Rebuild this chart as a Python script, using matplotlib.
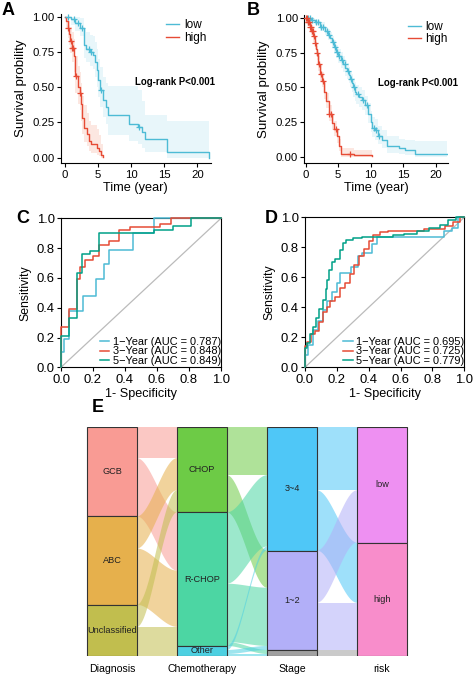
import numpy as np
import matplotlib
matplotlib.use("Agg")
import matplotlib.pyplot as plt
from matplotlib.patches import Rectangle, Polygon

plt.rcParams['font.family'] = ['Liberation Sans', 'DejaVu Sans']

# ---------------- data: Kaplan-Meier, panel A ----------------
a_low_t = [0, 0.9, 1.5, 2.3, 2.8, 3.2, 3.8, 4.2, 4.5, 4.8, 5.0, 5.3, 5.8, 6.2, 6.5, 9.6, 11.1, 11.6, 12.1, 15.4, 21.8]
a_low_s = [1.0, 0.98, 0.955, 0.92, 0.80, 0.77, 0.75, 0.73, 0.68, 0.62, 0.55, 0.48, 0.41, 0.36, 0.305, 0.24, 0.22, 0.18, 0.135, 0.04, 0.0]
a_low_lo = [1.0, 0.94, 0.90, 0.86, 0.71, 0.68, 0.65, 0.63, 0.57, 0.50, 0.43, 0.36, 0.29, 0.24, 0.16, 0.12, 0.10, 0.07, 0.04, 0.0, 0.0]
a_low_hi = [1.0, 1.0, 1.0, 0.99, 0.91, 0.89, 0.87, 0.86, 0.82, 0.77, 0.70, 0.64, 0.57, 0.53, 0.51, 0.51, 0.48, 0.40, 0.30, 0.26, 0.26]
a_low_cens = [0.4, 1.3, 1.9, 2.6, 3.6, 4.0, 5.4, 11.2]

a_high_t = [0, 0.15, 0.4, 0.6, 0.75, 1.0, 1.3, 1.5, 1.9, 2.2, 2.4, 2.6, 2.9, 3.3, 3.7, 4.0, 4.8, 5.2, 5.4, 5.8]
a_high_s = [1.0, 0.97, 0.92, 0.88, 0.83, 0.78, 0.72, 0.58, 0.50, 0.46, 0.38, 0.28, 0.21, 0.17, 0.12, 0.095, 0.07, 0.05, 0.02, 0.005]
a_high_lo = [1.0, 0.92, 0.85, 0.80, 0.74, 0.68, 0.61, 0.46, 0.38, 0.34, 0.26, 0.17, 0.11, 0.08, 0.05, 0.03, 0.02, 0.01, 0.0, 0.0]
a_high_hi = [1.0, 1.0, 0.99, 0.97, 0.93, 0.89, 0.84, 0.72, 0.65, 0.61, 0.53, 0.44, 0.37, 0.32, 0.26, 0.23, 0.20, 0.16, 0.10, 0.05]
a_high_cens = [0.5, 0.9, 1.1, 1.15, 1.65, 2.2]

# ---------------- data: Kaplan-Meier, panel B ----------------
b_low_t = [0, 0.8, 1.4, 2.2, 3.0, 3.5, 3.7, 4.0, 4.3, 4.7, 5.0, 5.4, 5.8, 6.1, 6.3, 6.6, 6.8, 7.1, 7.3, 7.6, 7.8,
           8.2, 8.6, 9.1, 9.6, 10.0, 10.2, 10.7, 11.2, 11.7, 12.5, 14.3, 15.3, 16.8, 21.8]
b_low_s = [1.0, 0.99, 0.97, 0.94, 0.91, 0.88, 0.86, 0.83, 0.79, 0.76, 0.73, 0.70, 0.67, 0.64, 0.62, 0.59, 0.56, 0.53,
           0.50, 0.47, 0.45, 0.43, 0.41, 0.37, 0.31, 0.25, 0.21, 0.19, 0.15, 0.12, 0.08, 0.065, 0.05, 0.02, 0.02]
b_low_lo = [1.0, 0.98, 0.95, 0.91, 0.88, 0.84, 0.82, 0.79, 0.74, 0.71, 0.68, 0.64, 0.61, 0.58, 0.56, 0.53, 0.50, 0.47,
            0.43, 0.40, 0.38, 0.36, 0.34, 0.30, 0.24, 0.18, 0.14, 0.12, 0.09, 0.06, 0.03, 0.02, 0.01, 0.0, 0.0]
b_low_hi = [1.0, 1.0, 0.99, 0.97, 0.94, 0.92, 0.90, 0.87, 0.84, 0.81, 0.78, 0.76, 0.73, 0.70, 0.68, 0.65, 0.62, 0.60,
            0.57, 0.54, 0.52, 0.50, 0.48, 0.44, 0.39, 0.33, 0.29, 0.27, 0.22, 0.19, 0.15, 0.13, 0.12, 0.11, 0.11]
b_low_cens = [0.3, 0.6, 1.0, 1.6, 1.9, 2.4, 2.7, 3.3, 3.6, 4.2, 4.5, 4.9, 5.2, 5.6, 6.0, 6.5, 7.0, 7.5, 8.0,
              8.9, 9.5, 10.5, 10.9, 11.3]

b_high_t = [0, 0.3, 0.6, 0.9, 1.2, 1.4, 1.6, 1.7, 1.9, 2.2, 2.5, 2.9, 3.2, 3.6, 4.0, 4.4, 4.8, 5.1, 5.5, 7.5, 10.2]
b_high_s = [1.0, 0.97, 0.94, 0.91, 0.87, 0.82, 0.78, 0.75, 0.67, 0.60, 0.55, 0.47, 0.40, 0.31, 0.24, 0.20, 0.15,
            0.08, 0.02, 0.01, 0.005]
b_high_lo = [1.0, 0.95, 0.91, 0.88, 0.83, 0.78, 0.73, 0.70, 0.62, 0.55, 0.50, 0.42, 0.35, 0.26, 0.19, 0.15, 0.10,
             0.04, 0.0, 0.0, 0.0]
b_high_hi = [1.0, 0.99, 0.97, 0.95, 0.91, 0.87, 0.83, 0.80, 0.73, 0.66, 0.61, 0.53, 0.46, 0.37, 0.30, 0.26, 0.21,
             0.13, 0.06, 0.05, 0.05]
b_high_cens = [0.1, 0.2, 0.3, 0.4, 0.5, 0.7, 0.8, 1.0, 1.1, 1.3, 1.5, 1.8, 2.0, 2.4, 2.7, 3.6, 3.9, 4.6, 6.8]

# ---------------- data: ROC (fpr at end of each step, tpr level) ----------------
c_1y_x = [0, 0.02, 0.05, 0.14, 0.22, 0.27, 0.30, 0.45, 0.58, 1.0]
c_1y_y = [0, 0.10, 0.19, 0.38, 0.48, 0.59, 0.69, 0.79, 0.90, 1.0]
c_3y_x = [0, 0.05, 0.10, 0.12, 0.15, 0.20, 0.24, 0.30, 0.36, 0.43, 0.62, 0.69, 1.0]
c_3y_y = [0, 0.27, 0.39, 0.59, 0.67, 0.72, 0.75, 0.82, 0.85, 0.92, 0.94, 0.96, 1.0]
c_5y_x = [0, 0.05, 0.10, 0.13, 0.18, 0.24, 0.58, 0.70, 0.81, 1.0]
c_5y_y = [0, 0.21, 0.33, 0.63, 0.76, 0.78, 0.90, 0.92, 0.95, 1.0]
c_labels = ["1\u2212Year (AUC = 0.787)", "3\u2212Year (AUC = 0.848)", "5\u2212Year (AUC = 0.849)"]

d_1y_x = [0, 0.02, 0.05, 0.08, 0.11, 0.14, 0.17, 0.20, 0.22, 0.29, 0.33, 0.36, 0.42, 0.45, 0.49, 0.87, 0.92, 0.96, 1.0]
d_1y_y = [0, 0.08, 0.15, 0.25, 0.31, 0.38, 0.44, 0.50, 0.56, 0.63, 0.67, 0.74, 0.76, 0.82, 0.87, 0.87, 0.91, 0.93, 1.0]
d_3y_x = [0, 0.01, 0.04, 0.06, 0.09, 0.11, 0.14, 0.16, 0.19, 0.22, 0.25, 0.28, 0.31, 0.34, 0.37, 0.40, 0.43, 0.47,
          0.52, 0.62, 0.75, 0.88, 0.93, 0.97, 1.0]
d_3y_y = [0, 0.14, 0.17, 0.22, 0.24, 0.30, 0.37, 0.40, 0.44, 0.47, 0.53, 0.56, 0.62, 0.68, 0.74, 0.79, 0.84, 0.88,
          0.90, 0.91, 0.91, 0.92, 0.94, 0.97, 1.0]
d_5y_x = [0, 0.01, 0.03, 0.05, 0.07, 0.09, 0.11, 0.13, 0.14, 0.15, 0.17, 0.19, 0.22, 0.24, 0.26, 0.30, 0.36, 0.45,
          0.55, 0.62, 0.70, 0.78, 0.85, 0.90, 0.95, 1.0]
d_5y_y = [0, 0.13, 0.16, 0.22, 0.27, 0.33, 0.39, 0.45, 0.52, 0.58, 0.65, 0.70, 0.72, 0.78, 0.83, 0.85, 0.86, 0.87,
          0.87, 0.88, 0.89, 0.91, 0.93, 0.95, 0.98, 1.0]
d_labels = ["1\u2212Year (AUC = 0.695)", "3\u2212Year (AUC = 0.725)", "5\u2212Year (AUC = 0.779)"]

# ---------------- data: alluvial ----------------
axes_names = ["Diagnosis", "Chemotherapy", "Stage", "risk"]
diag_levels = ["GCB", "ABC", "Unclassified"]
chemo_levels = ["CHOP", "R-CHOP", "Other"]
stage_levels = ["3~4", "1~2", "NA"]
risk_levels = ["low", "high"]
# counts of patients going from a level (row) to the next axis level (column)
diag_chemo = [[31, 58, 0], [32, 56, 0], [22, 19, 10]]
chemo_stage = [[48, 37, 0], [71, 58, 4], [4, 4, 2]]
stage_risk = [[63, 60], [52, 47], [0, 6]]

diag_cols = ["#F99B94", "#E6B04C", "#C1BE4E"]
chemo_cols = ["#6DCB46", "#4CD6A3", "#4DD0E1"]
stage_cols = ["#4FC7F7", "#B2AFF8", "#A0A0A0"]
risk_cols = ["#EE90F2", "#F88DCB"]

LOW = "#4DBBD5"
HIGH = "#E64B35"
GREEN = "#00A087"

W, H = 474, 677


def box(l, t, r, b):
    return [l / W, 1 - b / H, (r - l) / W, (b - t) / H]


fig = plt.figure(figsize=(W / 100, H / 100), dpi=100)


def style_axes(ax, full=False):
    for side in ["top", "right"]:
        ax.spines[side].set_visible(full)
    for sp in ax.spines.values():
        sp.set_linewidth(0.8)
    ax.tick_params(direction="out", length=3, width=0.8, pad=1.5, colors="black")


def km_panel(rect, curves, xlim, ylim, leg_anchor, txt_xy):
    ax = fig.add_axes(box(*rect))
    for t, s, lo, hi, cens, col, band, lab in curves:
        ax.fill_between(t, lo, hi, step="post", color=band, lw=0, zorder=1)
        ax.step(t, s, where="post", color=col, lw=1.0, label=lab, zorder=3)
        idx = np.searchsorted(t, cens, side="right") - 1
        ax.plot(cens, np.array(s)[idx], ls="none", marker="+", ms=5, mew=0.9, color=col, zorder=4)
    ax.set_xlim(*xlim)
    ax.set_ylim(*ylim)
    ax.set_xticks([0, 5, 10, 15, 20])
    ax.set_yticks([0, 0.25, 0.5, 0.75, 1.0])
    ax.set_yticklabels(["0.00", "0.25", "0.50", "0.75", "1.00"])
    style_axes(ax)
    ax.tick_params(labelsize=8.2)
    ax.set_xlabel("Time (year)", fontsize=9.2, labelpad=2)
    ax.set_ylabel("Survival probility", fontsize=9.6, labelpad=4)
    ax.legend(loc="upper right", bbox_to_anchor=leg_anchor, frameon=False, fontsize=8.5,
              handlelength=1.1, handletextpad=0.4, labelspacing=0.05, borderaxespad=0, borderpad=0)
    ax.text(txt_xy[0], txt_xy[1], "Log-rank P<0.001", fontsize=6.9, fontweight="bold", va="center", ha="left")
    return ax


km_panel((61, 14, 210.7, 163.3),
         [(a_low_t, a_low_s, a_low_lo, a_low_hi, a_low_cens, LOW, "#E8F6FA", "low"),
          (a_high_t, a_high_s, a_high_lo, a_high_hi, a_high_cens, HIGH, "#FCE7E1", "high")],
         (-0.6, 22.0), (-0.04, 1.019), (0.97, 0.965), (10.6, 0.535))
km_panel((304.3, 15, 448, 163.3),
         [(b_low_t, b_low_s, b_low_lo, b_low_hi, b_low_cens, LOW, "#E8F6FA", "low"),
          (b_high_t, b_high_s, b_high_lo, b_high_hi, b_high_cens, HIGH, "#FCE7E1", "high")],
         (-0.2, 21.9), (-0.048, 1.024), (1.0, 0.962), (11.1, 0.53))


def roc_panel(rect, curves, labels):
    ax = fig.add_axes(box(*rect))
    ax.plot([0, 1], [0, 1], color="#BBBBBB", lw=0.9, zorder=1)
    for (x, y, col), lab in zip(curves, labels):
        ax.plot(x, y, drawstyle="steps-pre", color=col, lw=1.1, label=lab, zorder=3, clip_on=False)
    ax.set_xlim(0, 1)
    ax.set_ylim(0, 1)
    ax.set_xticks([0, 0.2, 0.4, 0.6, 0.8, 1.0])
    ax.set_yticks([0, 0.2, 0.4, 0.6, 0.8, 1.0])
    style_axes(ax, full=True)
    ax.tick_params(labelsize=9.4)
    ax.set_xlabel("1- Specificity", fontsize=9.1, labelpad=2)
    ax.set_ylabel("Sensitivity", fontsize=8.8, labelpad=4)
    ax.legend(loc="lower right", bbox_to_anchor=(1.0, 0.01), frameon=False, fontsize=7.9,
              handlelength=0.9, handletextpad=0.3, labelspacing=-0.05, borderaxespad=0, borderpad=0)
    return ax


roc_panel((61, 218.3, 221, 367.3),
          [(c_1y_x, c_1y_y, LOW), (c_3y_x, c_3y_y, HIGH), (c_5y_x, c_5y_y, GREEN)], c_labels)
roc_panel((305, 217.3, 464.3, 367.3),
          [(d_1y_x, d_1y_y, LOW), (d_3y_x, d_3y_y, HIGH), (d_5y_x, d_5y_y, GREEN)], d_labels)

# ---------------- alluvial ----------------
axE = fig.add_axes(box(67, 427, 427, 656))
levels = [diag_levels, chemo_levels, stage_levels, risk_levels]
colors = [diag_cols, chemo_cols, stage_cols, risk_cols]
links = [diag_chemo, chemo_stage, stage_risk]
N = float(np.sum(diag_chemo))
wid = 50 / 90

# stratum sizes from the link tables
sizes = [np.array(m).sum(axis=1) for m in links] + [np.array(stage_risk).sum(axis=0)]
tops = [N - np.concatenate([[0], np.cumsum(sz)[:-1]]) for sz in sizes]

u = np.linspace(0, 1, 60)
ease = u * u * (3 - 2 * u)
for k, m in enumerate(links):
    m = np.array(m)
    xa = k + 1 + wid / 2
    xb = k + 2 - wid / 2
    xs = xa + (xb - xa) * u
    for a in range(m.shape[0]):
        for b in range(m.shape[1]):
            n = m[a, b]
            if n == 0:
                continue
            tl = tops[k][a] - m[a, :b].sum()
            tr = tops[k + 1][b] - m[:a, b].sum()
            top = tl + (tr - tl) * ease
            bot = top - n
            pts = np.column_stack([np.concatenate([xs, xs[::-1]]),
                                   np.concatenate([top, bot[::-1]])])
            axE.add_patch(Polygon(pts, closed=True, facecolor=colors[k][a], alpha=0.55,
                                  lw=0, zorder=1))

for k in range(4):
    for j, lab in enumerate(levels[k]):
        t = tops[k][j]
        h = sizes[k][j]
        axE.add_patch(Rectangle((k + 1 - wid / 2, t - h), wid, h, facecolor=colors[k][j],
                                edgecolor="#333333", lw=0.8, zorder=3))
        if lab != "NA":
            axE.text(k + 1, t - h / 2, lab, ha="center", va="center", fontsize=6.6,
                     color="#222222", zorder=4)

axE.set_xlim(0.5, 4.5)
axE.set_ylim(0, N)
axE.set_xticks([1, 2, 3, 4])
axE.set_xticklabels(axes_names, fontsize=7.6)
axE.tick_params(length=0, pad=6, left=False, labelleft=False)
axE.set_yticks([])
for sp in axE.spines.values():
    sp.set_visible(False)

# ---------------- panel letters ----------------
for lab, x, y in [("A", 2, 15), ("B", 247, 15), ("C", 16, 223), ("D", 265, 223), ("E", 92, 412)]:
    fig.text(x / W, 1 - y / H, lab, fontsize=13, fontweight="bold", ha="left", va="baseline")

fig.savefig("out.png", dpi=100)
